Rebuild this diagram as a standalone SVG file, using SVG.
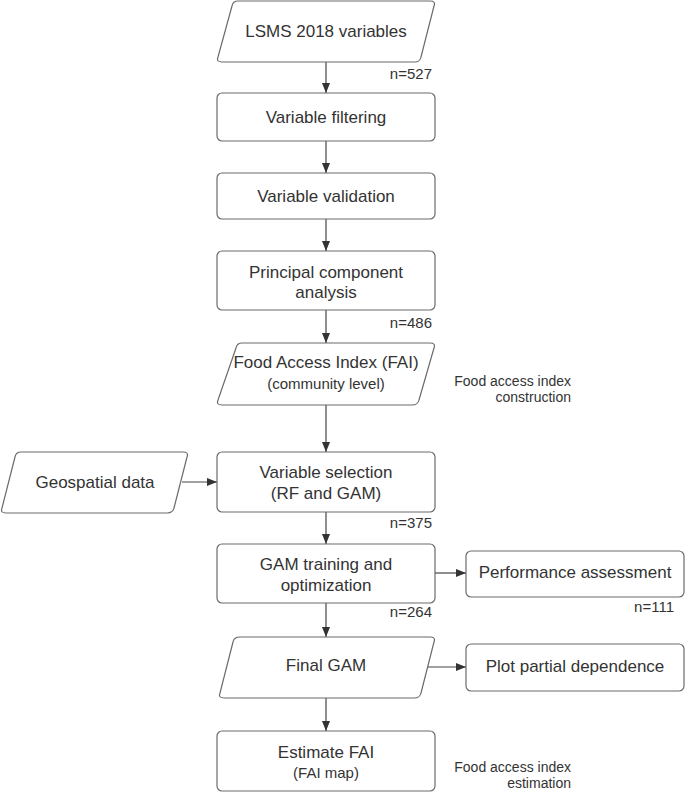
<svg xmlns="http://www.w3.org/2000/svg" width="685" height="793" viewBox="0 0 685 793">
<style>
.box{fill:#fff;stroke:#6b6b6b;stroke-width:1.2}
.t{font-family:"Liberation Sans",Arial,sans-serif;font-size:17px;fill:#333;text-anchor:middle}
.s{font-family:"Liberation Sans",Arial,sans-serif;font-size:15px;fill:#333;text-anchor:middle}
.n{font-family:"Liberation Sans",Arial,sans-serif;font-size:15px;fill:#333;text-anchor:end}
.c{font-family:"Liberation Sans",Arial,sans-serif;font-size:14px;fill:#333;text-anchor:end}
.e{stroke:#444;stroke-width:1.2;fill:none;marker-end:url(#ah)}
</style>
<defs>
<marker id="ah" viewBox="0 0 10 10" refX="10" refY="5" markerWidth="10" markerHeight="10" markerUnits="userSpaceOnUse" orient="auto">
<path d="M0,1 L10,5 L0,9 Z" fill="#333"/>
</marker>
</defs>
<rect width="685" height="793" fill="#fff"/>
<g id="connectors">
<line class="e" x1="326" y1="62" x2="326" y2="93"/>
<line class="e" x1="326" y1="141" x2="326" y2="173"/>
<line class="e" x1="326" y1="219" x2="326" y2="251"/>
<line class="e" x1="326" y1="310" x2="326" y2="343"/>
<line class="e" x1="326" y1="405" x2="326" y2="452"/>
<line class="e" x1="182" y1="482" x2="217" y2="482"/>
<line class="e" x1="326" y1="512" x2="326" y2="544"/>
<line class="e" x1="435" y1="573" x2="466" y2="573"/>
<line class="e" x1="326" y1="603" x2="326" y2="637"/>
<line class="e" x1="428" y1="667" x2="466" y2="667"/>
<line class="e" x1="326" y1="698" x2="326" y2="731"/>
</g>
<g id="lsms">
<path class="box" d="M238,1 L430,1 Q436,1 434,6 L421,57 Q420,62 415,62 L222,62 Q216,62 218,57 L232,6 Q233,1 238,1 Z"/>
<text class="t" x="326" y="37">LSMS 2018 variables</text>
<text class="n" x="432" y="79">n=527</text>
</g>
<g id="filtering">
<rect class="box" x="217" y="93" width="218" height="48" rx="5"/>
<text class="t" x="326" y="123">Variable filtering</text>
</g>
<g id="validation">
<rect class="box" x="217" y="173" width="218" height="46" rx="5"/>
<text class="t" x="326" y="202">Variable validation</text>
</g>
<g id="pca">
<rect class="box" x="217" y="251" width="218" height="59" rx="5"/>
<text class="t" x="326" y="278">Principal component</text>
<text class="t" x="326" y="298">analysis</text>
<text class="n" x="432" y="328">n=486</text>
</g>
<g id="fai">
<path class="box" d="M242,343 L430,343 Q436,343 434,348 L419,400 Q418,405 412,405 L222,405 Q216,405 218,400 L236,348 Q237,343 242,343 Z"/>
<text class="t" x="326" y="368">Food Access Index (FAI)</text>
<text class="s" x="326" y="389">(community level)</text>
</g>
<text class="c" x="571" y="386">Food access index</text>
<text class="c" x="571" y="402">construction</text>
<g id="geospatial">
<path class="box" d="M21,452 L183,452 Q189,452 187,457 L174,508 Q173,513 167,513 L6,513 Q0,513 2,508 L15,457 Q16,452 21,452 Z"/>
<text class="t" x="95" y="488">Geospatial data</text>
</g>
<g id="selection">
<rect class="box" x="217" y="452" width="218" height="60" rx="5"/>
<text class="t" x="326" y="478">Variable selection</text>
<text class="t" x="326" y="499">(RF and GAM)</text>
<text class="n" x="432" y="528">n=375</text>
</g>
<g id="training">
<rect class="box" x="217" y="544" width="218" height="59" rx="5"/>
<text class="t" x="326" y="570">GAM training and</text>
<text class="t" x="326" y="591">optimization</text>
<text class="n" x="432" y="617">n=264</text>
</g>
<g id="performance">
<rect class="box" x="466" y="551" width="218" height="46" rx="5"/>
<text class="t" x="575" y="578">Performance assessment</text>
<text class="n" x="674" y="612">n=111</text>
</g>
<g id="finalgam">
<path class="box" d="M240,637 L430,637 Q436,637 434,642 L421,693 Q420,698 414,698 L224,698 Q218,698 220,693 L233,642 Q234,637 240,637 Z"/>
<text class="t" x="326" y="671">Final GAM</text>
</g>
<g id="plot">
<rect class="box" x="466" y="644" width="218" height="47" rx="5"/>
<text class="t" x="575" y="672">Plot partial dependence</text>
</g>
<g id="estimate">
<rect class="box" x="217" y="731" width="218" height="60" rx="5"/>
<text class="t" x="326" y="758">Estimate FAI</text>
<text class="s" x="326" y="778">(FAI map)</text>
</g>
<text class="c" x="571" y="772">Food access index</text>
<text class="c" x="571" y="788">estimation</text>
</svg>
